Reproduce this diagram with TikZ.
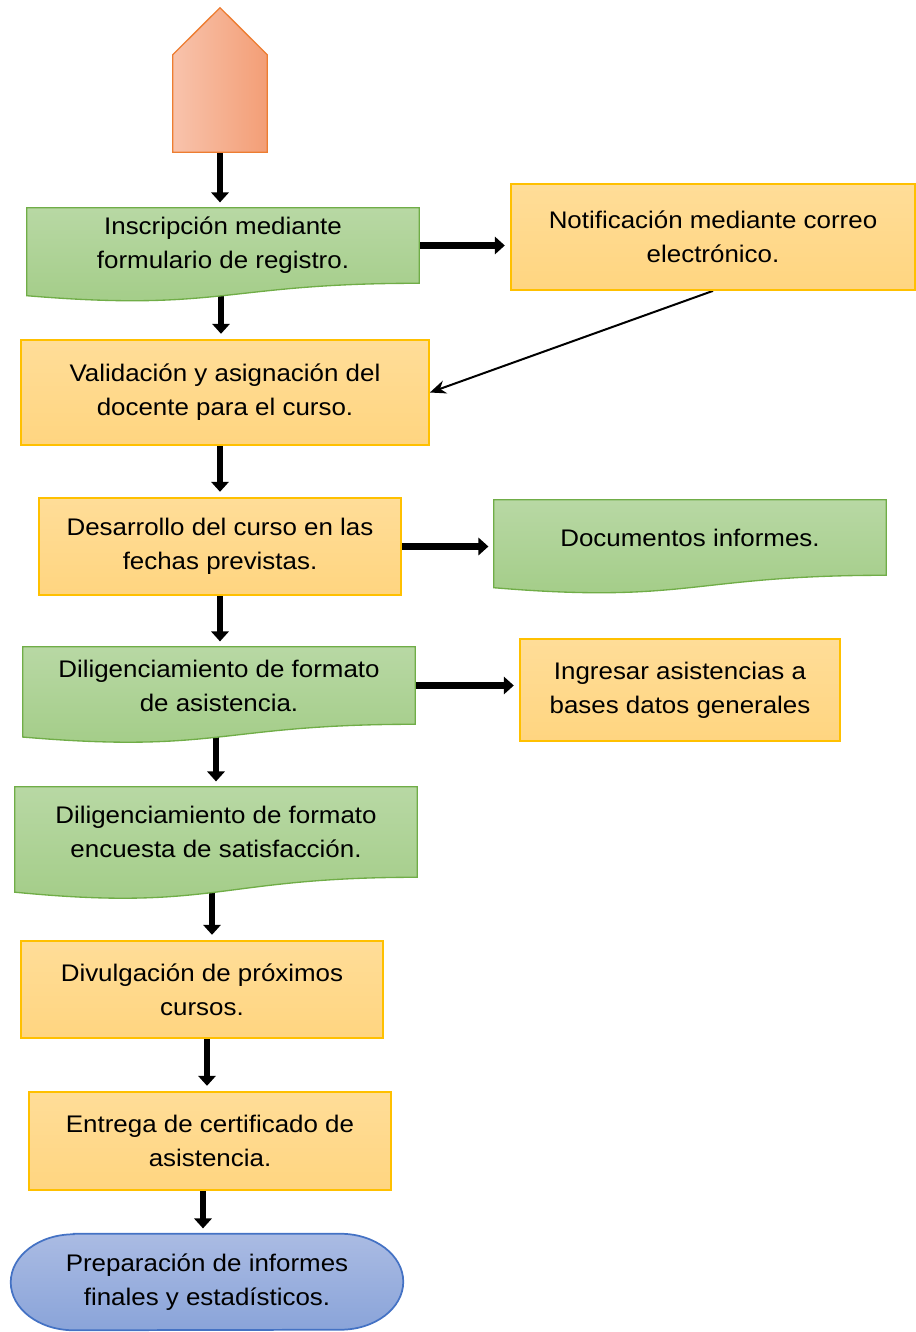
\documentclass[tikz,border=0pt]{standalone}
\usepackage{fontspec}
\setmainfont{Liberation Sans}[FakeStretch=1.08]
\usepackage{tikz}
\usetikzlibrary{arrows.meta, calc}

\pgfdeclarelayer{arrowlayer}
\pgfdeclarelayer{shapelayer}
\pgfsetlayers{arrowlayer,shapelayer,main}

\definecolor{procTop}{RGB}{255,221,152}
\definecolor{procBot}{RGB}{255,213,128}
\definecolor{procLine}{RGB}{255,192,0}
\definecolor{docTop}{RGB}{184,216,164}
\definecolor{docBot}{RGB}{162,204,134}
\definecolor{docLine}{RGB}{112,173,71}
\definecolor{startL}{RGB}{248,195,172}
\definecolor{startR}{RGB}{243,158,118}
\definecolor{startLine}{RGB}{237,125,49}
\definecolor{termTop}{RGB}{170,187,227}
\definecolor{termBot}{RGB}{138,164,217}
\definecolor{termLine}{RGB}{68,114,196}

\begin{document}
\begin{tikzpicture}[x=0.75pt, y=-0.75pt, font=\fontsize{18}{25.5}\selectfont]
    \tikzstyle{proc} = [rectangle, draw=procLine, line width=1.3pt, top color=procTop, bottom color=procBot, align=center, inner sep=0pt]
    \tikzstyle{doc} = [rectangle, align=center, inner sep=0pt]
    \tikzstyle{docshape} = [draw=docLine, line width=1pt, top color=docTop, bottom color=docBot]
    \tikzstyle{line} = [draw, line width=5pt, -{Triangle[width=13pt,length=7.5pt]}, shorten >=4pt]
    \tikzstyle{thinline} = [draw, line width=1.5pt, -{Stealth[width=10pt,length=12pt]}]

    \useasboundingbox (0,0) rectangle (915,1332);

    \node [minimum width=70.5pt, minimum height=108pt, inner sep=0pt] (start) at (220,80) {};
    \node [doc, minimum width=294pt, minimum height=56.25pt] (insc) at (223,245.5) {Inscripción mediante\\formulario de registro.};
    \node [proc, minimum width=303pt, minimum height=79.5pt] (notif) at (713,237) {Notificación mediante correo\\electrónico.};
    \node [proc, minimum width=306pt, minimum height=78.75pt] (valid) at (225,392.5) {Validación y asignación del\\docente para el curso.};
    \node [proc, minimum width=271.5pt, minimum height=72.75pt] (desarrollo) at (220,546.5) {Desarrollo del curso en las\\fechas previstas.};
    \node [doc, minimum width=294pt, minimum height=56.25pt] (documentos) at (690,537.5) {Documentos informes.};
    \node [doc, minimum width=294pt, minimum height=57.75pt] (asistencia) at (219,685.5) {Diligenciamiento de formato\\de asistencia.};
    \node [proc, minimum width=240pt, minimum height=76.5pt] (ingresar) at (680,690) {Ingresar asistencias a\\bases datos generales};
    \node [doc, minimum width=301.5pt, minimum height=67.5pt] (encuesta) at (216,832) {Diligenciamiento de formato\\encuesta de satisfacción.};
    \node [proc, minimum width=271.5pt, minimum height=72.75pt] (divulgacion) at (202,989.5) {Divulgación de próximos\\cursos.};
    \node [proc, minimum width=271.5pt, minimum height=73.5pt] (entrega) at (210,1141) {Entrega de certificado de\\asistencia.};
    \node [doc, minimum width=294pt, minimum height=72pt] (informes) at (207,1282) {Preparación de informes\\finales y estadísticos.};

    % shapes behind the texts
    \begin{pgfonlayer}{shapelayer}
        \path [draw=startLine, line width=1pt, left color=startL, right color=startR] (start.south west) -- (start.south east) -- ([yshift=-35.25pt]start.north east) -- (start.north) -- ([yshift=-35.25pt]start.north west) -- cycle;
        \foreach \n in {insc, documentos, asistencia, encuesta}
            \path [docshape] (\n.north west) -- (\n.north east) -- (\n.south east) .. controls (\n.south) and ($(\n.north)!1.3815!(\n.south)$) .. ($(\n.north west)!1.1646!(\n.south west)$) -- cycle;
        \path [draw=termLine, line width=1.3pt, top color=termTop, bottom color=termBot] ([xshift=47.25pt]informes.north west) -- ([xshift=-47.25pt]informes.north east) arc [start angle=90, end angle=-90, x radius=47.25pt, y radius=36pt] -- ([xshift=47.25pt]informes.south west) arc [start angle=270, end angle=90, x radius=47.25pt, y radius=36pt] -- cycle;
    \end{pgfonlayer}

    % connectors
    \begin{pgfonlayer}{arrowlayer}
        \path [line] (start.south) -- (start.south |- insc.north);
        \path [line] (insc.east) -- (insc.east -| notif.west);
        \path [line] ([xshift=-1.5pt]insc.south) -- ([xshift=-1.5pt]insc.south |- valid.north);
        \path [thinline] (notif.south) -- (valid.east);
        \path [line] (valid.south -| desarrollo.north) -- (desarrollo.north);
        \path [line] (desarrollo.east) -- (desarrollo.east -| documentos.west);
        \path [line] (desarrollo.south) -- (desarrollo.south |- asistencia.north);
        \path [line] (asistencia.east) -- (asistencia.east -| ingresar.west);
        \path [line] (asistencia.south -| encuesta.north) -- (encuesta.north);
        \path [line] ([xshift=-3pt]encuesta.south) -- ([xshift=-3pt]encuesta.south |- divulgacion.north);
        \path [line] ([xshift=3.75pt]divulgacion.south) -- ([xshift=3.75pt]divulgacion.south |- entrega.north);
        \path [line] ([xshift=-5.25pt]entrega.south) -- ([xshift=-5.25pt]entrega.south |- informes.north);
    \end{pgfonlayer}
\end{tikzpicture}
\end{document}
